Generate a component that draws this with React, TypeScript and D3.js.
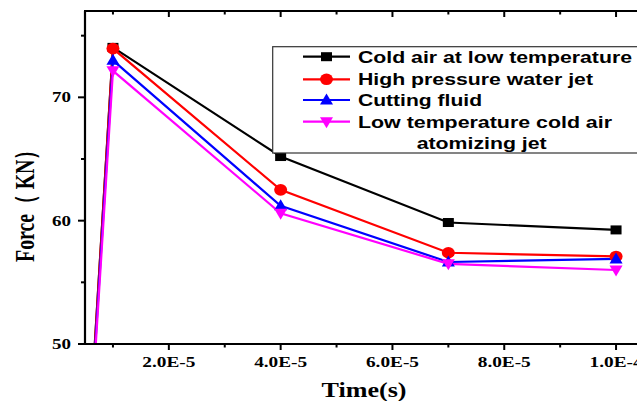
import React from "react";
import * as d3 from "d3";

const times = [0, 1e-5, 4e-5, 7e-5, 1e-4];
const coldAir = [0, 74.05, 65.2, 59.85, 59.25];
const waterJet = [0, 73.95, 62.5, 57.4, 57.1];
const cuttingFluid = [0, 73.0, 61.2, 56.65, 56.9];
const atomizingJet = [0, 72.15, 60.6, 56.5, 56.0];
const seriesNames = [
  "Cold air at low temperature",
  "High pressure water jet",
  "Cutting fluid",
  "Low temperature cold air",
];
const xTickValues = [2e-5, 4e-5, 6e-5, 8e-5, 1e-4];
const xTickLabels = ["2.0E-5", "4.0E-5", "6.0E-5", "8.0E-5", "1.0E-4"];
const xMinorValues = [1e-5, 3e-5, 5e-5, 7e-5, 9e-5];
const yTickValues = [50, 60, 70];
const yMinorValues = [55, 65, 75];

const W = 637;
const H = 401;
const L = 85, T = 11, R = 644, B = 344;
const SX = 1.3;

export default function App() {
  const x = d3.scaleLinear().domain([0.5e-5, 1.05e-4]).range([L, R]);
  const y = d3.scaleLinear().domain([50, 77]).range([B, T]);
  const line = d3.line<number>().x((_, i) => x(times[i])).y((d) => y(d));

  const series = [
    { v: coldAir, color: "#000000", m: "square" },
    { v: waterJet, color: "#ff0000", m: "circle" },
    { v: cuttingFluid, color: "#0000ff", m: "tri" },
    { v: atomizingJet, color: "#ff00ff", m: "tridown" },
  ];

  const marker = (m: string, cx: number, cy: number, color: string, key: any) => {
    if (m === "square")
      return <rect key={key} x={cx - 5.5} y={cy - 4.5} width={11} height={9} fill={color} />;
    if (m === "circle")
      return <ellipse key={key} cx={cx} cy={cy} rx={6.5} ry={5.8} fill={color} />;
    if (m === "tri")
      return (
        <path key={key} d={`M${cx},${cy - 6.5} L${cx + 6.5},${cy + 4.5} L${cx - 6.5},${cy + 4.5} Z`} fill={color} />
      );
    return (
      <path key={key} d={`M${cx},${cy + 6.5} L${cx + 6.5},${cy - 4.5} L${cx - 6.5},${cy - 4.5} Z`} fill={color} />
    );
  };

  const serif = "'Liberation Serif', 'Times New Roman', serif";
  const sans = "'Liberation Sans', Arial, sans-serif";
  const legendRows = [56.7, 79.3, 100, 121.7];
  const legendLens = [274, 235, 124, 254];

  return (
    <svg
      width={W}
      height={H}
      style={{ position: "absolute", left: 0, top: 0, background: "#fff" }}
    >
      <defs>
        <clipPath id="plot">
          <rect x={L} y={T} width={R - L} height={B - T} />
        </clipPath>
      </defs>
      <rect x={0} y={0} width={W} height={H} fill="#fff" />

      {/* series */}
      <g clipPath="url(#plot)">
        {series.map((s, si) => (
          <path key={si} d={line(s.v) || ""} fill="none" stroke={s.color} strokeWidth={2.2} />
        ))}
        {series.map((s, si) =>
          s.v.map((d, i) => (i === 0 ? null : marker(s.m, x(times[i]), y(d), s.color, `${si}-${i}`)))
        )}
      </g>

      {/* legend */}
      <rect x={272.7} y={46.7} width={380} height={106.3} fill="#fff" stroke="#333" strokeWidth={1.2} />
      {series.map((s, i) => (
        <g key={i}>
          <line x1={303} x2={350} y1={legendRows[i]} y2={legendRows[i]} stroke={s.color} strokeWidth={2.2} />
          {marker(s.m, 326.5, legendRows[i], s.color, "lm" + i)}
          <text
            x={358}
            y={legendRows[i] + 6}
            fontFamily={sans}
            fontWeight="bold"
            fontSize={17}
            textLength={legendLens[i]}
            lengthAdjust="spacingAndGlyphs"
          >
            {seriesNames[i]}
          </text>
        </g>
      ))}
      <text
        x={416.7}
        y={143.3 + 6}
        fontFamily={sans}
        fontWeight="bold"
        fontSize={17}
        textLength={130}
        lengthAdjust="spacingAndGlyphs"
      >
        atomizing jet
      </text>

      {/* axes */}
      <line x1={L} x2={L} y1={T} y2={B + 1} stroke="#000" strokeWidth={2.2} />
      <line x1={L - 1} x2={R} y1={B} y2={B} stroke="#000" strokeWidth={2.2} />
      <line x1={L - 1} x2={R} y1={T} y2={T} stroke="#000" strokeWidth={2.2} />

      {yTickValues.map((v) => (
        <g key={"yt" + v}>
          <line x1={L - 7} x2={L} y1={y(v)} y2={y(v)} stroke="#000" strokeWidth={2} />
          <text
            x={71}
            y={y(v) + 5}
            textAnchor="end"
            fontFamily={serif}
            fontWeight="bold"
            fontSize={15}
            textLength={19}
            lengthAdjust="spacingAndGlyphs"
          >
            {v}
          </text>
        </g>
      ))}
      {yMinorValues.map((v) => (
        <line key={"ym" + v} x1={L - 4} x2={L} y1={y(v)} y2={y(v)} stroke="#000" strokeWidth={2} />
      ))}

      {xTickValues.map((v, i) => (
        <g key={"xt" + i}>
          <line x1={x(v)} x2={x(v)} y1={B} y2={B + 6} stroke="#000" strokeWidth={2} />
          <line x1={x(v)} x2={x(v)} y1={T} y2={T + 6} stroke="#000" strokeWidth={2} />
          <text
            x={x(v)}
            y={367.3}
            textAnchor="middle"
            fontFamily={serif}
            fontWeight="bold"
            fontSize={15}
            textLength={53}
            lengthAdjust="spacingAndGlyphs"
          >
            {xTickLabels[i]}
          </text>
        </g>
      ))}
      {xMinorValues.map((v, i) => (
        <g key={"xm" + i}>
          <line x1={x(v)} x2={x(v)} y1={B} y2={B + 3.5} stroke="#000" strokeWidth={2} />
          <line x1={x(v)} x2={x(v)} y1={T} y2={T + 3.5} stroke="#000" strokeWidth={2} />
        </g>
      ))}

      <text
        x={364}
        y={396.7}
        textAnchor="middle"
        fontFamily={serif}
        fontWeight="bold"
        fontSize={20}
        textLength={85}
        lengthAdjust="spacingAndGlyphs"
      >
        Time(s)
      </text>

      <text
        transform={`translate(24,201) scale(${SX},1) rotate(-90)`}
        textAnchor="middle"
        dominantBaseline="central"
        fontFamily={serif}
        fontWeight="bold"
        fontSize={21}
        textLength={122}
        lengthAdjust="spacingAndGlyphs"
      >
        Force（ KN）
      </text>
    </svg>
  );
}
